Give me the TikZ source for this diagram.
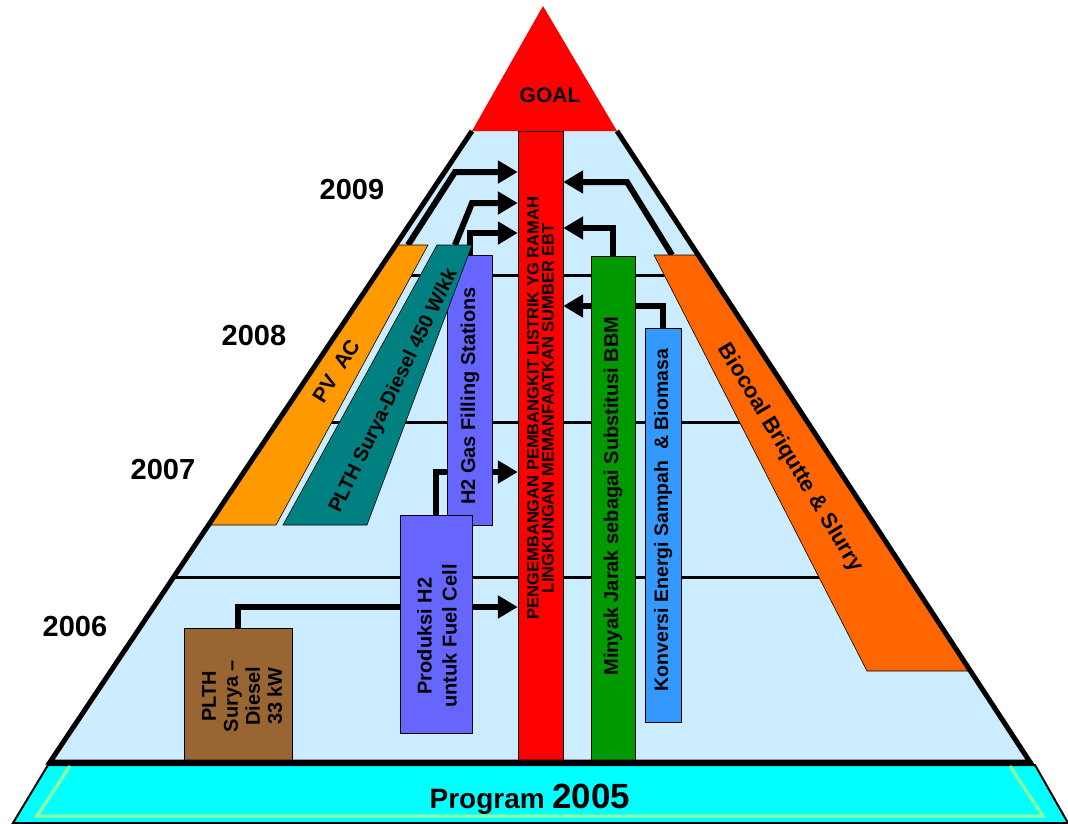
\documentclass[tikz,border=0pt]{standalone}
\usepackage{fontspec}
\setmainfont{Liberation Sans}
\usetikzlibrary{arrows.meta}

\definecolor{skyfill}{HTML}{CCECFF}
\definecolor{basecyan}{HTML}{00FFFF}
\definecolor{basegreen}{HTML}{99FF99}
\definecolor{goalred}{HTML}{FF0000}
\definecolor{jarakgreen}{HTML}{009900}
\definecolor{sampahblue}{HTML}{3399FF}
\definecolor{bioorange}{HTML}{FF6600}
\definecolor{pvorange}{HTML}{FF9900}
\definecolor{sdteal}{HTML}{008080}
\definecolor{htwo}{HTML}{6666FF}
\definecolor{plthbrown}{HTML}{996633}

\tikzset{
  box/.style={draw, line width=0.6pt, inner sep=0pt},
  lbl/.style={font=\bfseries, align=center, inner sep=0pt},
  flow/.style={line width=6pt, -{Triangle[length=20pt,width=22pt]}},
  level/.style={line width=3pt},
  edge/.style={line width=5pt},
  year/.style={font=\fontsize{29}{30}\selectfont\bfseries, inner sep=0pt},
}

\begin{document}
\begin{tikzpicture}[x=1pt, y=-1pt]
  \useasboundingbox (0,0) rectangle (1068,823);

  % base: program 2005
  \filldraw[fill=basecyan, line width=2pt] (48,765) -- (1035,765) -- (1068,823) -- (13,823) -- cycle;
  \draw[basegreen, line width=3pt] (70,766) -- (37,816) -- (1043,816) -- (1010,766);
  \node[anchor=base] (prog) at (530,808)
    {\fontsize{28}{30}\selectfont\bfseries Program \fontsize{35}{36}\selectfont 2005};

  % pyramid body and year levels
  \coordinate (tl) at (472,131);
  \coordinate (tr) at (617,131);
  \coordinate (bl) at (50,762);
  \coordinate (br) at (1030,762);
  \fill[skyfill] (tl) -- (tr) -- (br) -- (bl) -- cycle;
  \foreach \yy in {275,422,577} {
    \draw[level] ({472-0.669*(\yy-131)},\yy) -- ({617+0.657*(\yy-131)},\yy);
  }

  \node[year] (y2009) at (352,190) {2009};
  \node[year] (y2008) at (254,336) {2008};
  \node[year] (y2007) at (163,470) {2007};
  \node[year] (y2006) at (75,627) {2006};

  % boxes (placed first, drawn over the arrows below)
  \path (540.5,446.5) node[minimum width=45, minimum height=631] (ebt) {};
  \path (613,509) node[minimum width=44, minimum height=506] (jarak) {};
  \path (663,525) node[minimum width=36, minimum height=394] (sampah) {};
  \path (469.5,390) node[minimum width=45, minimum height=270] (h2gas) {};
  \path (436,624) node[minimum width=72, minimum height=218] (produksi) {};
  \path (238,695.5) node[minimum width=108, minimum height=135] (plth) {};

  \coordinate (pvtop) at (408,245);
  \coordinate (pvbend) at (455,172);
  \coordinate (sdtop) at (455,245);
  \coordinate (sdbend) at (472,203);
  \coordinate (biotop) at (672,255);
  \coordinate (biobend) at (627,182);

  % arrows
  \draw[flow] (pvtop) -- (pvbend) -- (pvbend -| ebt.west);
  \draw[flow] (sdtop) -- (sdbend) -- (sdbend -| ebt.west);
  \draw[flow] (h2gas.north) |- (ebt.west |- 0,233);
  \draw[flow] (biotop) -- (biobend) -- (biobend -| ebt.east);
  \draw[flow] (jarak.north) |- (ebt.east |- 0,228);
  \draw[flow] (sampah.north) |- (ebt.east |- 0,306);
  \draw[flow] (produksi.north) |- (ebt.west |- 0,472);
  \draw[flow] (plth.north) |- (ebt.west |- 0,607);

  % h2 stations sits under the teal strip
  \node[box, fill=htwo, minimum width=45, minimum height=270] at (h2gas) {};
  \node[lbl, rotate=90, font=\fontsize{20}{24}\selectfont\bfseries] (h2gastext) at (470,396)
    {H2 Gas Filling Stations};

  % slanted programs
  \filldraw[fill=pvorange, line width=0.6pt] (396,245) -- (428,245) -- (276,525) -- (208,525) -- cycle;
  \node[lbl, rotate=58, font=\fontsize{21}{24}\selectfont\bfseries] (pvac) at (336,371) {PV\ \ AC};
  \filldraw[fill=sdteal, line width=0.6pt] (437,245) -- (472,245) -- (367,525) -- (283,525) -- cycle;
  \node[lbl, rotate=64, font=\fontsize{20}{24}\selectfont\bfseries] (plthsd) at (394,391) {PLTH Surya-Diesel 450 W/kk};
  \filldraw[fill=bioorange, line width=0.6pt] (654,255) -- (698,255) -- (970,671) -- (867,671) -- cycle;
  \node[lbl, rotate=-59, font=\fontsize{22}{24}\selectfont\bfseries] (biocoal) at (790,458) {Biocoal Briqutte \& Slurry};

  % upright programs
  \node[box, fill=goalred, minimum width=45, minimum height=631] at (ebt) {};
  \node[lbl, rotate=90, font=\fontsize{16.5}{15}\selectfont\bfseries] (ebttext) at (540.5,408)
    {PENGEMBANGAN PEMBANGKIT LISTRIK YG RAMAH\\LINGKUNGAN MEMANFAATKAN SUMBER EBT};
  \node[box, fill=jarakgreen, minimum width=44, minimum height=506] at (jarak) {};
  \node[lbl, rotate=90, font=\fontsize{20}{24}\selectfont\bfseries] (jaraktext) at (613,496)
    {Minyak Jarak sebagai Substitusi BBM};
  \node[box, fill=sampahblue, minimum width=36, minimum height=394] at (sampah) {};
  \node[lbl, rotate=90, font=\fontsize{19.5}{24}\selectfont\bfseries] (sampahtext) at (663,520)
    {Konversi Energi Sampah\ \ \& Biomasa};
  \node[box, fill=htwo, minimum width=72, minimum height=218] at (produksi) {};
  \node[lbl, rotate=90, font=\fontsize{20}{25}\selectfont\bfseries] (produksitext) at (437,636)
    {Produksi H2\\untuk Fuel Cell};
  \node[box, fill=plthbrown, minimum width=108, minimum height=135] at (plth) {};
  \node[lbl, rotate=90, font=\fontsize{20}{22}\selectfont\bfseries] (plthtext) at (242,696)
    {PLTH\\Surya --\\Diesel\\33 kW};

  % pyramid outline
  \draw[edge] (tl) -- (bl) -- (br) -- (tr);

  % goal
  \fill[goalred] (543,6) -- (617,131) -- (472,131) -- cycle;
  \node[font=\fontsize{21}{24}\selectfont\bfseries] (goal) at (550,95) {GOAL};
\end{tikzpicture}
\end{document}
